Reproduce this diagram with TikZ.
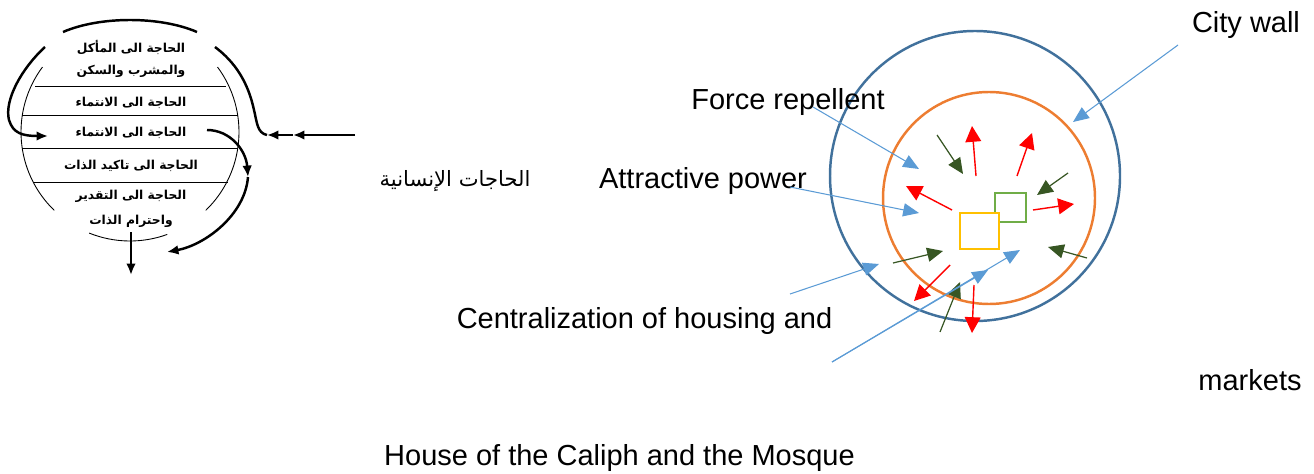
\documentclass[tikz,border=0pt]{standalone}
\usepackage{fontspec}
\setmainfont{Liberation Sans}
\newfontfamily\arabicfont[Script=Arabic]{DejaVu Sans}
\TeXXeTstate=1
\usetikzlibrary{arrows.meta}
\definecolor{wallblue}{HTML}{41719C}
\definecolor{ringorange}{HTML}{ED7D31}
\definecolor{callblue}{HTML}{5B9BD5}
\definecolor{pushred}{HTML}{FF0000}
\definecolor{pullgreen}{HTML}{375623}
\definecolor{caliphyellow}{HTML}{FFC000}
\definecolor{mosquegreen}{HTML}{70AD47}
\newcommand{\ar}[1]{{\arabicfont\beginR #1\endR}}

\tikzset{
  caption/.style={font=\fontsize{16.5}{19}\selectfont, inner sep=0pt},
  needrow/.style={font=\arabicfont\bfseries\fontsize{7}{9}\selectfont, inner sep=0pt},
  needline/.style={line width=0.5pt},
  flow/.style={line width=1.4pt, -{Latex[length=6.5pt,width=5.5pt]}},
  callout/.style={callblue, line width=0.6pt, -{Triangle[length=9pt,width=7.5pt]}},
  push/.style={pushred, line width=0.8pt, -{Triangle[length=9pt,width=9pt]}},
  pull/.style={pullgreen, line width=0.7pt, -{Triangle[length=9pt,width=8pt]}},
  square/.style={line width=1.3pt, fill=white, inner sep=0pt}
}

\begin{document}
\begin{tikzpicture}[x=0.02cm, y=-0.02cm]
  \useasboundingbox (0,0) rectangle (1314,473);

  % needs circle
  \coordinate (hub) at (130,132);
  \draw[needline] (hub) ++(134:109) arc (134:216.6:109);
  \draw[needline] (hub) ++(-36.6:109) arc (-36.6:46:109);
  \draw[needline] (hub) ++(70:109) arc (70:112:109);
  \draw[needline] (35,86) -- (226,86);
  \draw[needline] (22,115) -- (238,115);
  \draw[needline] (22,148) -- (238,148);
  \draw[needline] (33,182) -- (228,182);

  \node[needrow] (food) at (131,48) {\ar{الحاجة الى المأكل}};
  \node[needrow] (drink) at (131,71) {\ar{والمشرب والسكن}};
  \node[needrow] (belong) at (131,103) {\ar{الحاجة الى الانتماء}};
  \node[needrow] (belongb) at (131,133) {\ar{الحاجة الى الانتماء}};
  \node[needrow] (self) at (131,166) {\ar{الحاجة الى تاكيد الذات}};
  \node[needrow] (esteem) at (131,196) {\ar{الحاجة الى التقدير}};
  \node[needrow] (respect) at (131,221) {\ar{واحترام الذات}};

  \coordinate (inlet) at (355,135);
  \coordinate (inmid) at (293,135);
  \coordinate (inend) at (267,135);
  \coordinate (rowin) at (48,136);
  \coordinate (rowout) at (207,130);
  \coordinate (turn) at (248,177);
  \coordinate (back) at (167,252);
  \coordinate (drop) at (131,232);
  \coordinate (dropend) at (131,275);

  \draw[flow] (inlet) -- (inmid);
  \draw[flow] (inmid) -- (inend);
  \draw[line width=1.4pt] (inend) .. controls (257,133) and (257,122) .. (254,110)
     .. controls (248,82) and (235,62) .. (215,47);
  \draw[line width=1.4pt] (63,32) .. controls (100,16) and (160,16) .. (197,32);
  \draw[flow] (45,47) .. controls (22,68) and (4,100) .. (9,120)
     .. controls (13,133) and (22,136) .. (rowin);
  \draw[flow] (rowout) .. controls (230,130) and (246,150) .. (turn);
  \draw[flow] (turn) .. controls (245,215) and (205,245) .. (back);
  \draw[flow] (drop) -- (dropend);

  \node[font=\arabicfont\fontsize{12}{14}\selectfont, inner sep=0pt] (needs) at (455,181) {\ar{الحاجات الإنسانية}};

  % city
  \coordinate (wallc) at (975,176);
  \coordinate (ringc) at (989,198);
  \draw[wallblue, line width=1.4pt] (wallc) circle (145);
  \draw[ringorange, line width=1.4pt] (ringc) circle (106);
  \node[square, draw=mosquegreen, minimum width=0.62cm, minimum height=0.58cm] (mosque) at (1010.5,207.5) {};
  \node[square, draw=caliphyellow, minimum width=0.78cm, minimum height=0.72cm] (caliph) at (979.5,231) {};

  \foreach \xa/\ya/\xb/\yb in {976/176/972/126, 1017/176/1032/133, 952/210/906/186,
                               1033/210/1074/204, 950/265/914/301, 974/285/972/333}
    \draw[push] (\xa,\ya) -- (\xb,\yb);
  \foreach \xa/\ya/\xb/\yb in {937/135/963/174, 1068/173/1037/195, 893/263/943/251,
                               1087/258/1048/247, 940/332/960/282}
    \draw[pull] (\xa,\ya) -- (\xb,\yb);

  \node[caption] (citywall) at (1246,25) {City wall};
  \node[caption] (repel) at (788,102) {Force repellent};
  \node[caption] (attract) at (703,181) {Attractive power};
  \node[caption] (central) at (644.5,321) {Centralization of housing and};
  \node[caption] (markets) at (1250,380) {markets};
  \node[caption] (house) at (619.5,458) {House of the Caliph and the Mosque};

  \coordinate (wallfrom) at (1178,45);
  \coordinate (wallto) at (1073,122);
  \coordinate (repelfrom) at (813,107);
  \coordinate (repelto) at (919,169);
  \coordinate (attractfrom) at (790,187);
  \coordinate (attractto) at (919,213);
  \coordinate (edgefrom) at (790,294);
  \coordinate (edgeto) at (879,264);
  \coordinate (corefrom) at (832,362);
  \coordinate (coreto) at (988,270);
  \coordinate (corefar) at (1020,250);

  \draw[callout] (wallfrom) -- (wallto);
  \draw[callout] (repelfrom) -- (repelto);
  \draw[callout] (attractfrom) -- (attractto);
  \draw[callout] (edgefrom) -- (edgeto);
  \draw[callout] (corefrom) -- (coreto);
  \draw[callout] (corefrom) -- (corefar);
\end{tikzpicture}
\end{document}
